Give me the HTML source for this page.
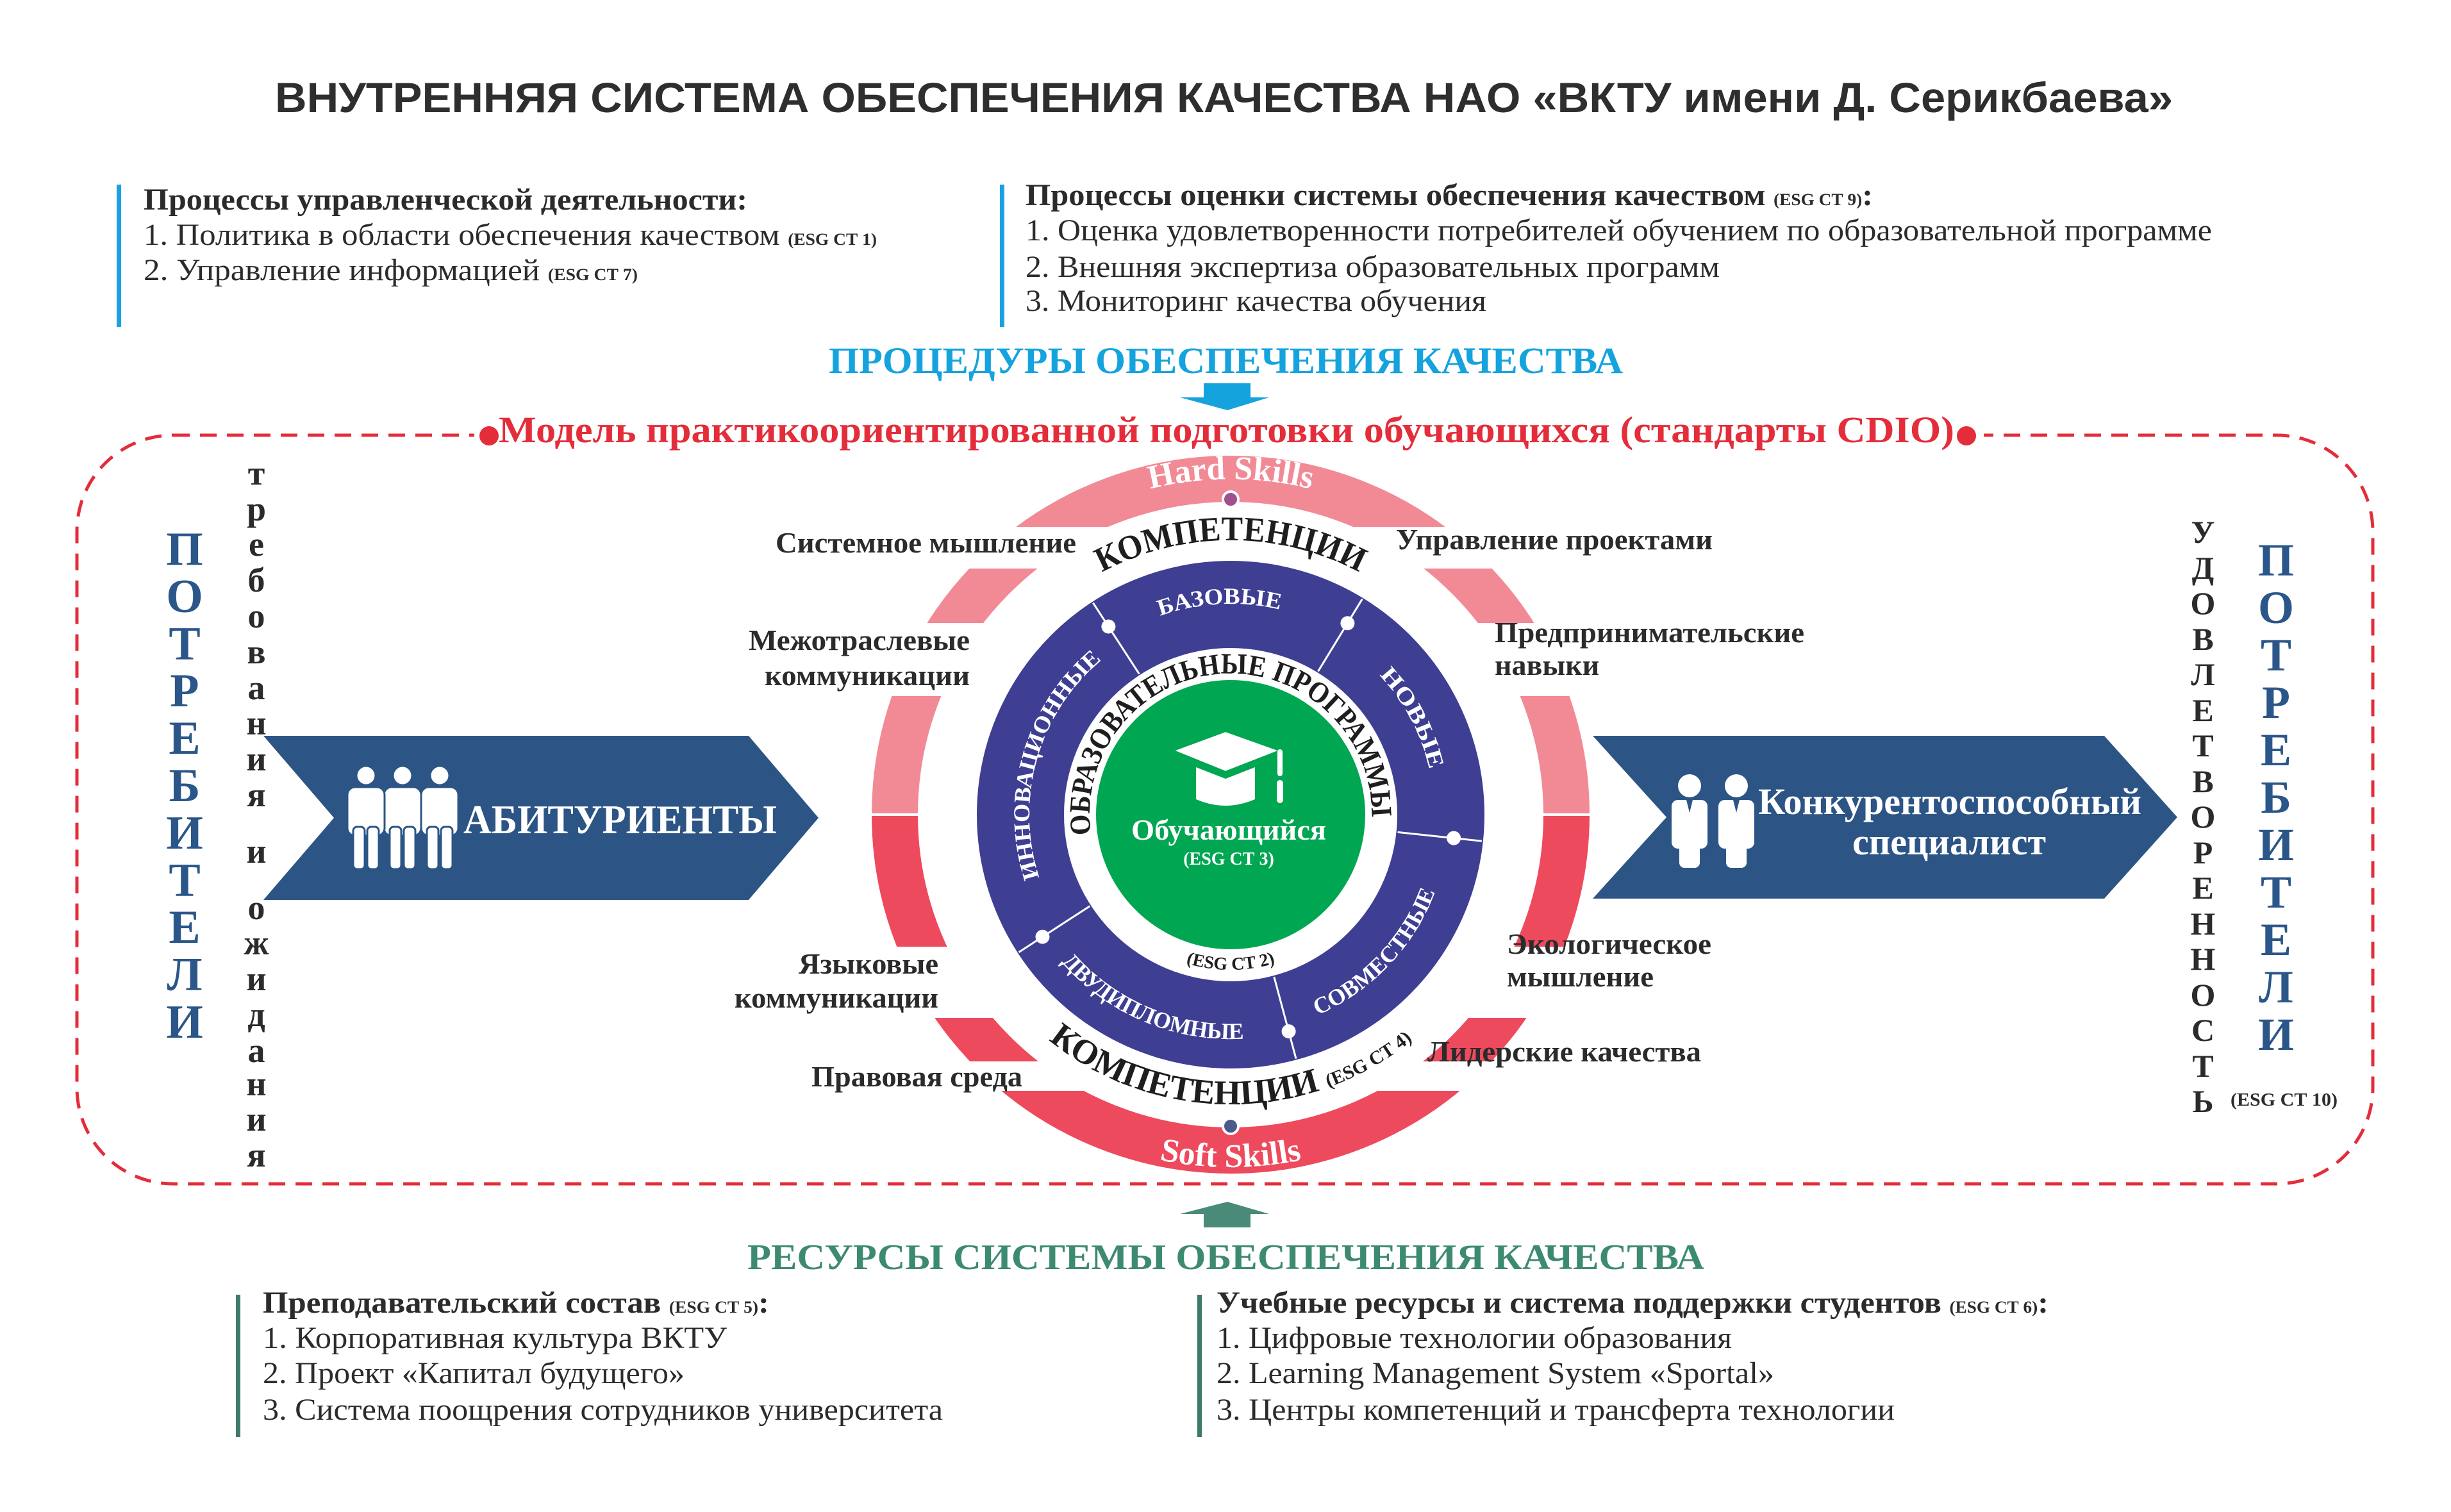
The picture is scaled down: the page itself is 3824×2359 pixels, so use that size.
<!DOCTYPE html>
<html><head><meta charset="utf-8"><style>
html,body{margin:0;padding:0;background:#fff;}
svg{display:block;}
.s{font-family:"Liberation Serif","DejaVu Serif",serif;}
.b{font-weight:bold;}
</style></head><body>
<svg width="3824" height="2359" viewBox="0 0 3824 2359" xmlns="http://www.w3.org/2000/svg">
<rect width="3824" height="2359" fill="#fff"/>
<text x="429" y="175" font-family="Liberation Sans, Arial, sans-serif" font-weight="bold" font-size="66" fill="#2e2e2e" textLength="2961" lengthAdjust="spacingAndGlyphs">ВНУТРЕННЯЯ СИСТЕМА ОБЕСПЕЧЕНИЯ КАЧЕСТВА НАО «ВКТУ имени Д. Серикбаева»</text>

<rect x="182" y="288" width="7" height="222" fill="#1ba1e2"/>
<rect x="1560" y="288" width="7" height="222" fill="#1ba1e2"/>
<g class="s" fill="#2b2b2b" font-size="48">
<text x="224" y="327" class="b" textLength="942" lengthAdjust="spacingAndGlyphs">Процессы управленческой деятельности:</text>
<text x="224" y="382" textLength="1144" lengthAdjust="spacingAndGlyphs">1. Политика в области обеспечения качеством <tspan font-size="26" font-weight="bold">(ESG СТ 1)</tspan></text>
<text x="224" y="437" textLength="771" lengthAdjust="spacingAndGlyphs">2. Управление информацией <tspan font-size="26" font-weight="bold">(ESG СТ 7)</tspan></text>
<text x="1600" y="320" class="b" textLength="1322" lengthAdjust="spacingAndGlyphs">Процессы оценки системы обеспечения качеством <tspan font-size="26">(ESG СТ 9)</tspan>:</text>
<text x="1600" y="375" textLength="1851" lengthAdjust="spacingAndGlyphs">1. Оценка удовлетворенности потребителей обучением по образовательной программе</text>
<text x="1600" y="432" textLength="1083" lengthAdjust="spacingAndGlyphs">2. Внешняя экспертиза образовательных программ</text>
<text x="1600" y="485" textLength="719" lengthAdjust="spacingAndGlyphs">3. Мониторинг качества обучения</text>
</g>

<text x="1293" y="582" class="s b" font-size="58" fill="#15a3de" textLength="1239" lengthAdjust="spacingAndGlyphs">ПРОЦЕДУРЫ ОБЕСПЕЧЕНИЯ КАЧЕСТВА</text>
<polygon points="1878,598 1951,598 1951,620 1980,620 1915,640 1841,620 1878,620" fill="#15a3de"/>

<rect x="120" y="679" width="3582" height="1168" rx="150" ry="150" fill="none" stroke="#e42d3a" stroke-width="5" stroke-dasharray="26 16"/>
<rect x="740" y="650" width="2355" height="60" fill="#fff"/>
<circle cx="763" cy="680" r="15" fill="#e42d3a"/>
<circle cx="3068" cy="680" r="15" fill="#e42d3a"/>
<text x="778" y="690" class="s b" font-size="58" fill="#e42d3a" textLength="2271" lengthAdjust="spacingAndGlyphs">Модель практикоориентированной подготовки обучающихся (стандарты CDIO)</text>

<g class="s b" font-size="74" fill="#2b5689" text-anchor="middle">
<text x="288" y="881">П</text><text x="288" y="955">О</text><text x="288" y="1029">Т</text><text x="288" y="1102">Р</text><text x="288" y="1176">Е</text><text x="288" y="1250">Б</text><text x="288" y="1324">И</text><text x="288" y="1398">Т</text><text x="288" y="1471">Е</text><text x="288" y="1545">Л</text><text x="288" y="1619">И</text>
</g>
<g class="s b" font-size="54" fill="#2b2b2b" text-anchor="middle">
<text x="400" y="756">т</text><text x="400" y="812">р</text><text x="400" y="867">е</text><text x="400" y="923">б</text><text x="400" y="979">о</text><text x="400" y="1035">в</text><text x="400" y="1091">а</text><text x="400" y="1146">н</text><text x="400" y="1202">и</text><text x="400" y="1258">я</text><text x="400" y="1346">и</text><text x="400" y="1434">о</text><text x="400" y="1489">ж</text><text x="400" y="1545">и</text><text x="400" y="1601">д</text><text x="400" y="1657">а</text><text x="400" y="1709">н</text><text x="400" y="1764">и</text><text x="400" y="1820">я</text>
</g>

<g class="s b" font-size="50" fill="#2b2b2b" text-anchor="middle">
<text x="3437" y="847">У</text><text x="3437" y="903">Д</text><text x="3437" y="958">О</text><text x="3437" y="1014">В</text><text x="3437" y="1069">Л</text><text x="3437" y="1125">Е</text><text x="3437" y="1180">Т</text><text x="3437" y="1236">В</text><text x="3437" y="1291">О</text><text x="3437" y="1347">Р</text><text x="3437" y="1402">Е</text><text x="3437" y="1458">Н</text><text x="3437" y="1513">Н</text><text x="3437" y="1569">О</text><text x="3437" y="1624">С</text><text x="3437" y="1680">Т</text><text x="3437" y="1735">Ь</text>
</g>
<g class="s b" font-size="72" fill="#2b5689" text-anchor="middle">
<text x="3551" y="898">П</text><text x="3551" y="972">О</text><text x="3551" y="1046">Т</text><text x="3551" y="1120">Р</text><text x="3551" y="1194">Е</text><text x="3551" y="1268">Б</text><text x="3551" y="1342">И</text><text x="3551" y="1416">Т</text><text x="3551" y="1490">Е</text><text x="3551" y="1564">Л</text><text x="3551" y="1638">И</text>
</g>
<text x="3480" y="1725" class="s b" font-size="28" fill="#2b2b2b" textLength="167" lengthAdjust="spacingAndGlyphs">(ESG СТ 10)</text>

<polygon points="411,1148 1168,1148 1277,1276 1168,1404 411,1404 521,1276" fill="#2c5585"/>
<polygon points="2485,1148 3283,1148 3397,1275 3283,1402 2485,1402 2600,1275" fill="#2c5585"/>
<g fill="#fff" stroke="#2c5585" stroke-width="3">
<g><circle cx="686" cy="1210" r="15"/><rect x="657" y="1228" width="58" height="76" rx="12"/><rect x="666" y="1290" width="18" height="66" rx="6"/><rect x="688" y="1290" width="18" height="66" rx="6"/></g>
<g><circle cx="628" cy="1210" r="15"/><rect x="599" y="1228" width="58" height="76" rx="12"/><rect x="608" y="1290" width="18" height="66" rx="6"/><rect x="630" y="1290" width="18" height="66" rx="6"/></g>
<g><circle cx="571" cy="1210" r="15"/><rect x="542" y="1228" width="58" height="76" rx="12"/><rect x="551" y="1290" width="18" height="66" rx="6"/><rect x="573" y="1290" width="18" height="66" rx="6"/></g>
</g>
<text x="723" y="1300" class="s b" font-size="64" fill="#fff" textLength="489" lengthAdjust="spacingAndGlyphs">АБИТУРИЕНТЫ</text>
<g fill="#fff">
<circle cx="2636" cy="1226" r="18"/><rect x="2608" y="1248" width="56" height="76" rx="10"/><rect x="2620" y="1300" width="32" height="54" rx="8"/>
<circle cx="2709" cy="1226" r="18"/><rect x="2681" y="1248" width="56" height="76" rx="10"/><rect x="2693" y="1300" width="32" height="54" rx="8"/>
</g>
<polygon points="2631,1248 2641,1248 2636,1268" fill="#2c5585"/>
<polygon points="2704,1248 2714,1248 2709,1268" fill="#2c5585"/>
<text x="2743" y="1270" class="s b" font-size="58" fill="#fff" textLength="598" lengthAdjust="spacingAndGlyphs">Конкурентоспособный</text>
<text x="2890" y="1333" class="s b" font-size="58" fill="#fff" textLength="302" lengthAdjust="spacingAndGlyphs">специалист</text>

<g transform="translate(0,-15)">
<path d="M1396,1286 A524,524 0 0 1 2444,1286" fill="none" stroke="#f28a96" stroke-width="72"/>
<path d="M1396,1286 A524,524 0 0 0 2444,1286" fill="none" stroke="#ee4a5d" stroke-width="72"/>
<rect x="1340" y="1284" width="1160" height="4" fill="#fff"/>
</g>
<rect x="1340" y="822" width="1160" height="65" fill="#fff"/>
<rect x="1340" y="972" width="1160" height="114" fill="#fff"/>
<rect x="1340" y="1477" width="1160" height="111" fill="#fff"/>
<rect x="1340" y="1656" width="1160" height="46" fill="#fff"/>

<g transform="translate(0,-15)">
<circle cx="1920" cy="1286" r="396" fill="#3e3f93"/>
<circle cx="1920" cy="1286" r="260" fill="#fff"/>
<circle cx="1920" cy="1286" r="210" fill="#00a651"/>
<g stroke="#fff" stroke-width="3">
<line x1="1777.3" y1="1066.3" x2="1705.4" y2="955.6"/>
<line x1="2056.5" y1="1062.4" x2="2125.3" y2="949.7"/>
<line x1="2180.6" y1="1313.4" x2="2311.8" y2="1327.2"/>
<line x1="1987.8" y1="1539.1" x2="2022.0" y2="1666.6"/>
<line x1="1700.3" y1="1428.7" x2="1589.6" y2="1500.6"/>
</g>
<g fill="#fff">
<circle cx="1729.4" cy="992.5" r="11"/><circle cx="2102.4" cy="987.3" r="11"/><circle cx="2268.1" cy="1322.6" r="11"/><circle cx="2010.6" cy="1624.1" r="11"/><circle cx="1626.5" cy="1476.6" r="11"/>
</g>
<defs>
<path id="pObr" d="M1706.1,1337.3 A220,220 0 1 1 2138.6,1310.9"/>
<path id="pKomT" d="M1549.3,1072 A428,428 0 0 1 2290.7,1072"/>
<path id="pBaz" d="M1675.5,1065.9 A329,329 0 0 1 2140.1,1041.5"/>
<path id="pNov" d="M2039.1,991.2 A318,318 0 0 1 2231.0,1352.1"/>
<path id="pInn" d="M1694.1,1504.1 A314,314 0 0 1 1844.0,981.3"/>
<path id="pSov" d="M1928.3,1626.9 A341,341 0 0 0 2260.9,1277.7"/>
<path id="pDvu" d="M1595.9,1418.2 A350,350 0 0 0 2052.2,1610.1"/>
<path id="pE2" d="M1764.4,1471.4 A242,242 0 0 0 2075.6,1471.4"/>
<path id="pKomB" d="M1528.6,1512 A452,452 0 0 0 2311.4,1512"/>
<path id="pHard" d="M1584.0,884.5 A524,524 0 0 1 2256.0,884.5"/>
<path id="pSoft" d="M1566.5,1707.3 A550,550 0 0 0 2273.5,1707.3"/>
</defs>
<g class="s b" text-anchor="middle">
<text font-size="46" fill="#1e1e1e"><textPath href="#pObr" startOffset="50%" textLength="726" lengthAdjust="spacingAndGlyphs">ОБРАЗОВАТЕЛЬНЫЕ ПРОГРАММЫ</textPath></text>
<text font-size="54" fill="#1e1e1e"><textPath href="#pKomT" startOffset="50%" textLength="418" lengthAdjust="spacingAndGlyphs">КОМПЕТЕНЦИИ</textPath></text>
<text font-size="36" fill="#fff"><textPath href="#pBaz" startOffset="50%" textLength="190" lengthAdjust="spacingAndGlyphs">БАЗОВЫЕ</textPath></text>
<text font-size="36" fill="#fff"><textPath href="#pNov" startOffset="50%" textLength="169" lengthAdjust="spacingAndGlyphs">НОВЫЕ</textPath></text>
<text font-size="36" fill="#fff"><textPath href="#pInn" startOffset="50%" textLength="375" lengthAdjust="spacingAndGlyphs">ИННОВАЦИОННЫЕ</textPath></text>
<text font-size="36" fill="#fff"><textPath href="#pSov" startOffset="50%" textLength="273" lengthAdjust="spacingAndGlyphs">СОВМЕСТНЫЕ</textPath></text>
<text font-size="36" fill="#fff"><textPath href="#pDvu" startOffset="50%" textLength="320" lengthAdjust="spacingAndGlyphs">ДВУДИПЛОМНЫЕ</textPath></text>
<text font-size="28" fill="#1e1e1e"><textPath href="#pE2" startOffset="50%">(ESG СТ 2)</textPath></text>
<text font-size="54" fill="#1e1e1e"><textPath href="#pKomB" startOffset="50%">КОМПЕТЕНЦИИ <tspan font-size="30">(ESG СТ 4)</tspan></textPath></text>
<text font-size="52" fill="#fff"><textPath href="#pHard" startOffset="50%">Hard Skills</textPath></text>
<text font-size="52" fill="#fff"><textPath href="#pSoft" startOffset="50%">Soft Skills</textPath></text>
</g>
<circle cx="1920" cy="794" r="12" fill="#a0508f" stroke="#fff" stroke-width="4"/>
<circle cx="1920" cy="1772" r="12" fill="#4a5a8a" stroke="#fff" stroke-width="4"/>

<polygon points="1828,1186 1912,1155 1999,1186 1912,1220" fill="#fff" stroke="#00a651" stroke-width="4"/>
<path d="M1866,1212 L1912,1230 L1958,1212 L1958,1262 Q1912,1282 1866,1262 Z" fill="#fff"/>
<line x1="1997" y1="1188" x2="1997" y2="1222" stroke="#fff" stroke-width="8" stroke-linecap="round"/>
<rect x="1992" y="1232" width="10" height="36" rx="5" fill="#fff"/>
<text x="1917" y="1325" class="s b" font-size="46" fill="#fff" text-anchor="middle" textLength="304" lengthAdjust="spacingAndGlyphs">Обучающийся</text>
<text x="1917" y="1364" class="s b" font-size="28" fill="#fff" text-anchor="middle">(ESG СТ 3)</text>
</g>

<g class="s b" font-size="46" fill="#2b2b2b">
<text x="1679" y="862" text-anchor="end" textLength="469" lengthAdjust="spacingAndGlyphs">Системное мышление</text>
<text x="1513" y="1014" text-anchor="end" textLength="345" lengthAdjust="spacingAndGlyphs">Межотраслевые</text>
<text x="1513" y="1069" text-anchor="end" textLength="320" lengthAdjust="spacingAndGlyphs">коммуникации</text>
<text x="1464" y="1519" text-anchor="end" textLength="218" lengthAdjust="spacingAndGlyphs">Языковые</text>
<text x="1464" y="1572" text-anchor="end" textLength="318" lengthAdjust="spacingAndGlyphs">коммуникации</text>
<text x="1595" y="1695" text-anchor="end" textLength="329" lengthAdjust="spacingAndGlyphs">Правовая среда</text>
<text x="2178" y="857" textLength="494" lengthAdjust="spacingAndGlyphs">Управление проектами</text>
<text x="2332" y="1002" textLength="483" lengthAdjust="spacingAndGlyphs">Предпринимательские</text>
<text x="2332" y="1053">навыки</text>
<text x="2351" y="1488" textLength="319" lengthAdjust="spacingAndGlyphs">Экологическое</text>
<text x="2351" y="1539" textLength="229" lengthAdjust="spacingAndGlyphs">мышление</text>
<text x="2227" y="1656" textLength="427" lengthAdjust="spacingAndGlyphs">Лидерские качества</text>
</g>

<polygon points="1915,1875 1980,1894 1951,1894 1951,1915 1878,1915 1878,1894 1841,1894" fill="#4a8a78"/>
<text x="1166" y="1980" class="s b" font-size="56" fill="#3d8a73" textLength="1493" lengthAdjust="spacingAndGlyphs">РЕСУРСЫ СИСТЕМЫ ОБЕСПЕЧЕНИЯ КАЧЕСТВА</text>
<rect x="368" y="2020" width="7" height="222" fill="#3e7a6c"/>
<rect x="1868" y="2020" width="7" height="222" fill="#3e7a6c"/>
<g class="s" fill="#2b2b2b" font-size="48">
<text x="410" y="2048" class="b" textLength="790" lengthAdjust="spacingAndGlyphs">Преподавательский состав <tspan font-size="26">(ESG СТ 5)</tspan>:</text>
<text x="410" y="2103" textLength="724" lengthAdjust="spacingAndGlyphs">1. Корпоративная культура ВКТУ</text>
<text x="410" y="2158" textLength="658" lengthAdjust="spacingAndGlyphs">2. Проект «Капитал будущего»</text>
<text x="410" y="2215" textLength="1061" lengthAdjust="spacingAndGlyphs">3. Система поощрения сотрудников университета</text>
<text x="1898" y="2048" class="b" textLength="1298" lengthAdjust="spacingAndGlyphs">Учебные ресурсы и система поддержки студентов <tspan font-size="26">(ESG СТ 6)</tspan>:</text>
<text x="1898" y="2103" textLength="804" lengthAdjust="spacingAndGlyphs">1. Цифровые технологии образования</text>
<text x="1898" y="2158" textLength="870" lengthAdjust="spacingAndGlyphs">2. Learning Management System «Sportal»</text>
<text x="1898" y="2215" textLength="1058" lengthAdjust="spacingAndGlyphs">3. Центры компетенций и трансферта технологии</text>
</g>
</svg>
</body></html>
